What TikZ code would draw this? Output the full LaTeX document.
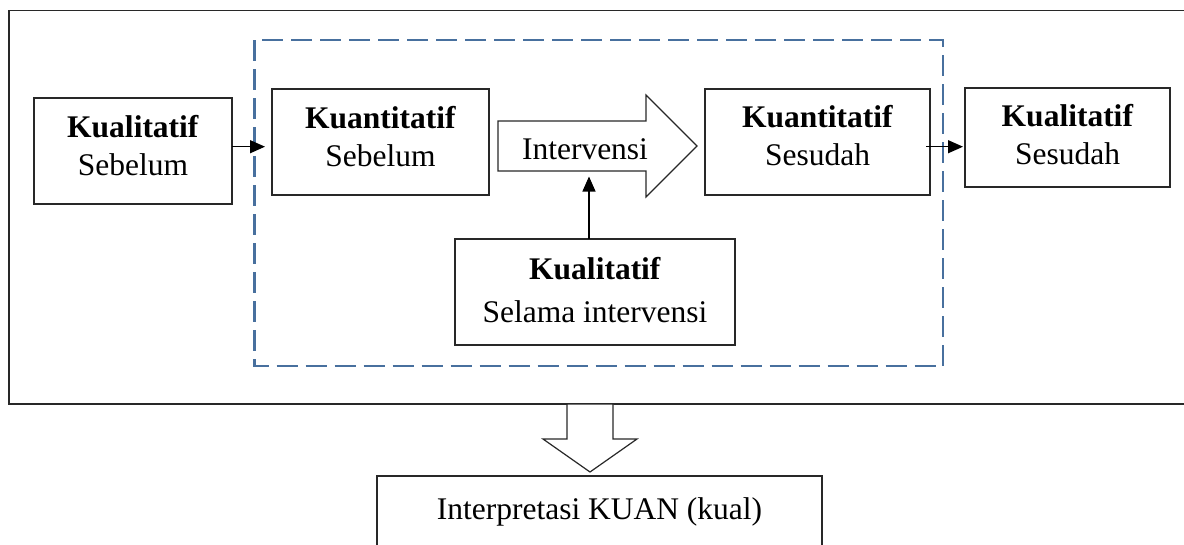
\documentclass[tikz,border=0pt]{standalone}
\usepackage{fontspec}
\setmainfont{Liberation Serif}
\usetikzlibrary{arrows.meta}
\definecolor{dashblue}{RGB}{72,112,158}
\definecolor{linegray}{RGB}{40,40,40}
\begin{document}
\begin{tikzpicture}[x=1pt,y=-1pt,
  every node/.style={font=\fontsize{31.5}{38}\selectfont},
  box/.style={draw=linegray,line width=1.2pt,inner sep=0pt,outer sep=0pt,align=center},
  arr/.style={-{Triangle[length=15pt,width=13pt]},line width=1.2pt,draw=black},
  blockarrow/.style={draw=linegray,line width=1.2pt,fill=white,line join=miter},
  dashbox/.style={draw=dashblue,line width=2.5pt,dash pattern=on 21pt off 8pt}]
\useasboundingbox (0,0) rectangle (1184,544);
\fill[white] (0,0) rectangle (1184,544);
% outer frame (right edge beyond the picture)
\draw[linegray,line width=1.3pt] (1190,10.7) -- (9,10.7) -- (9,404) -- (1190,404);
% dashed group
\draw[dashbox] (254.5,40) rectangle (943,366);
% boxes
\node[box,minimum width=198pt,minimum height=106pt,text depth=11pt] (ks) at (133,151) {\textbf{Kualitatif}\\Sebelum};
\node[box,minimum width=217pt,minimum height=106pt,text depth=12pt] (qs) at (380.5,142) {\textbf{Kuantitatif}\\Sebelum};
\node[box,minimum width=225pt,minimum height=106pt,text depth=13pt] (qd) at (817.5,142) {\textbf{Kuantitatif}\\Sesudah};
\node[box,minimum width=205pt,minimum height=99pt,text depth=6pt] (kd) at (1067.5,137.5) {\textbf{Kualitatif}\\Sesudah};
\node[box,minimum width=280pt,minimum height=106pt,text depth=4pt] (sel) at (595,292) {\textbf{Kualitatif}\\[5pt]Selama intervensi};
% intervention block arrow
\draw[blockarrow] (498,121) -- (646,121) -- (646,95) -- (697,146) -- (646,197) -- (646,171) -- (498,171) -- cycle;
\node[inner sep=0pt] (intv) at (585,149) {Intervensi};
\coordinate (ibot) at (589,176.5);
% connectors
\coordinate (ay) at (0,146.7);
\draw[arr,shorten >=7pt] (ks.east |- ay) -- (qs.west |- ay);
\draw[arr,shorten <=-4pt,shorten >=2pt] (qd.east |- ay) -- (kd.west |- ay);
\draw[arr] (sel.north -| ibot) -- (ibot);
% down block arrow
\draw[blockarrow] (567,404) -- (567,439) -- (543,439) -- (590,472) -- (637,439) -- (613,439) -- (613,404) -- cycle;
% interpretation box (bottom cut by page edge)
\node[box,minimum width=445pt,minimum height=72pt] (interp) at (599.5,512) {Interpretasi KUAN (kual)};
\end{tikzpicture}
\end{document}
